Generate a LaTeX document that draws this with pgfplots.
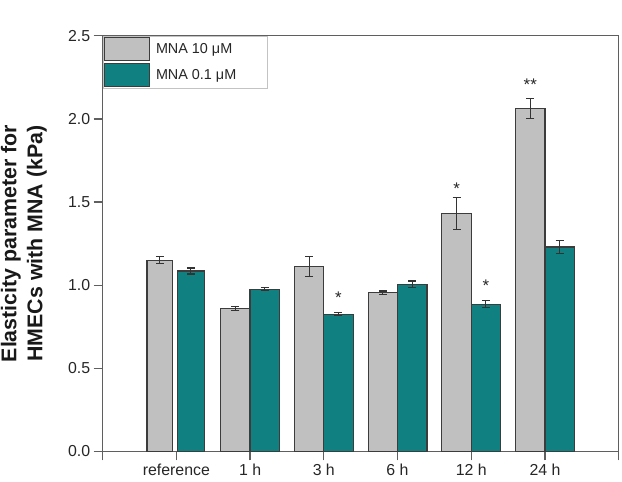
\documentclass[border=0pt]{standalone}
\usepackage{fontspec}
\setmainfont{Liberation Sans}
\usepackage{pgfplots}
\usepackage{pgfplotstable}
\pgfplotsset{compat=1.18}
\definecolor{bargray}{RGB}{192,192,192}
\definecolor{barteal}{RGB}{16,128,128}
\definecolor{edge}{RGB}{60,60,60}
\definecolor{axcol}{RGB}{95,95,95}
\definecolor{legcol}{RGB}{195,195,195}

\pgfplotstableread{
x y e
1 0.86 0.01
2 1.11 0.06
3 0.955 0.01
4 1.43 0.095
5 2.065 0.06
}\graydata
\pgfplotstableread{
x y e
1 0.975 0.01
2 0.825 0.01
3 1.005 0.02
4 0.885 0.02
5 1.23 0.04
}\tealdata
\pgfplotstableread{
x y e
0 1.15 0.02
}\grayref
\pgfplotstableread{
x y e
0 1.085 0.018
}\tealref

\begin{document}
\begin{tikzpicture}
\begin{axis}[
  scale only axis, width=518bp, height=417bp,
  xmin=-1, xmax=6, ymin=0, ymax=2.5,
  xtick={-1,0,1,2,3,4,5,6},
  xticklabels={,reference,1 h,3 h,6 h,12 h,24 h,},
  ytick={0,0.5,1,1.5,2,2.5},
  yticklabel style={/pgf/number format/.cd, fixed, fixed zerofill, precision=1},
  /pgf/number format/assume math mode=true,
  tick align=outside, major tick length=9bp,
  xtick pos=bottom, ytick pos=left,
  axis line style={draw=axcol, line width=1.2bp},
  every tick/.style={draw=axcol, line width=1.2bp},
  tick label style={font=\fontsize{16}{19}\selectfont, text=black!85},
  ylabel={Elasticity parameter for\\HMECs with MNA (kPa)},
  ylabel style={font=\fontsize{21.5}{26}\selectfont\bfseries, align=center,
    at={(axis description cs:-0.108,0.5)}, anchor=south, inner sep=0pt, text=black!90},
  legend style={at={(0,1)}, anchor=north west, draw=legcol, line width=0.8bp,
    fill=white, font=\fontsize{14.5}{18}\selectfont, inner sep=1bp, row sep=1.5bp,
    cells={anchor=west}, text=black!85},
  mybar/.style={ybar, bar shift=0pt, draw=edge, line width=1.2bp,
    legend image code/.code={\draw[##1, draw=edge, line width=1.2bp] (0bp,-11.5bp) rectangle (45bp,11.5bp);}},
  myerr/.style={error bars/.cd, y dir=both, y explicit,
    error bar style={line width=1.1bp, draw=black!80},
    error mark options={rotate=90, mark size=4bp, line width=1.1bp, draw=black!80}},
]
\addplot[mybar, fill=bargray, bar width=29.5bp, myerr]
  table[x expr=\thisrow{x}-0.1993, y=y, y error=e]{\graydata};
\addlegendentry{\hspace*{4bp}MNA 10 μM\hspace*{28bp}}
\addplot[mybar, fill=barteal, bar width=29.5bp, myerr]
  table[x expr=\thisrow{x}+0.1993, y=y, y error=e]{\tealdata};
\addlegendentry{\hspace*{4bp}MNA 0.1 μM\hspace*{28bp}}
\addplot[forget plot, mybar, fill=bargray, bar width=26bp, myerr]
  table[x expr=\thisrow{x}-0.2230, y=y, y error=e]{\grayref};
\addplot[forget plot, mybar, fill=barteal, bar width=27bp, myerr]
  table[x expr=\thisrow{x}+0.1960, y=y, y error=e]{\tealref};

\node[font=\fontsize{17}{18}\selectfont, anchor=base, yshift=-9.5bp, text=black!85] at (axis cs:2.199,0.947) {*};
\node[font=\fontsize{17}{18}\selectfont, anchor=base, yshift=-9.5bp, text=black!85] at (axis cs:3.801,1.60) {*};
\node[font=\fontsize{17}{18}\selectfont, anchor=base, yshift=-9.5bp, text=black!85] at (axis cs:4.199,1.02) {*};
\node[font=\fontsize{17}{18}\selectfont, anchor=base, yshift=-9.5bp, text=black!85] at (axis cs:4.801,2.226) {**};
\end{axis}
\path (current axis.south west) +(-103bp,-30bp) (current axis.north east) +(1.3bp,36bp);
\end{tikzpicture}
\end{document}
